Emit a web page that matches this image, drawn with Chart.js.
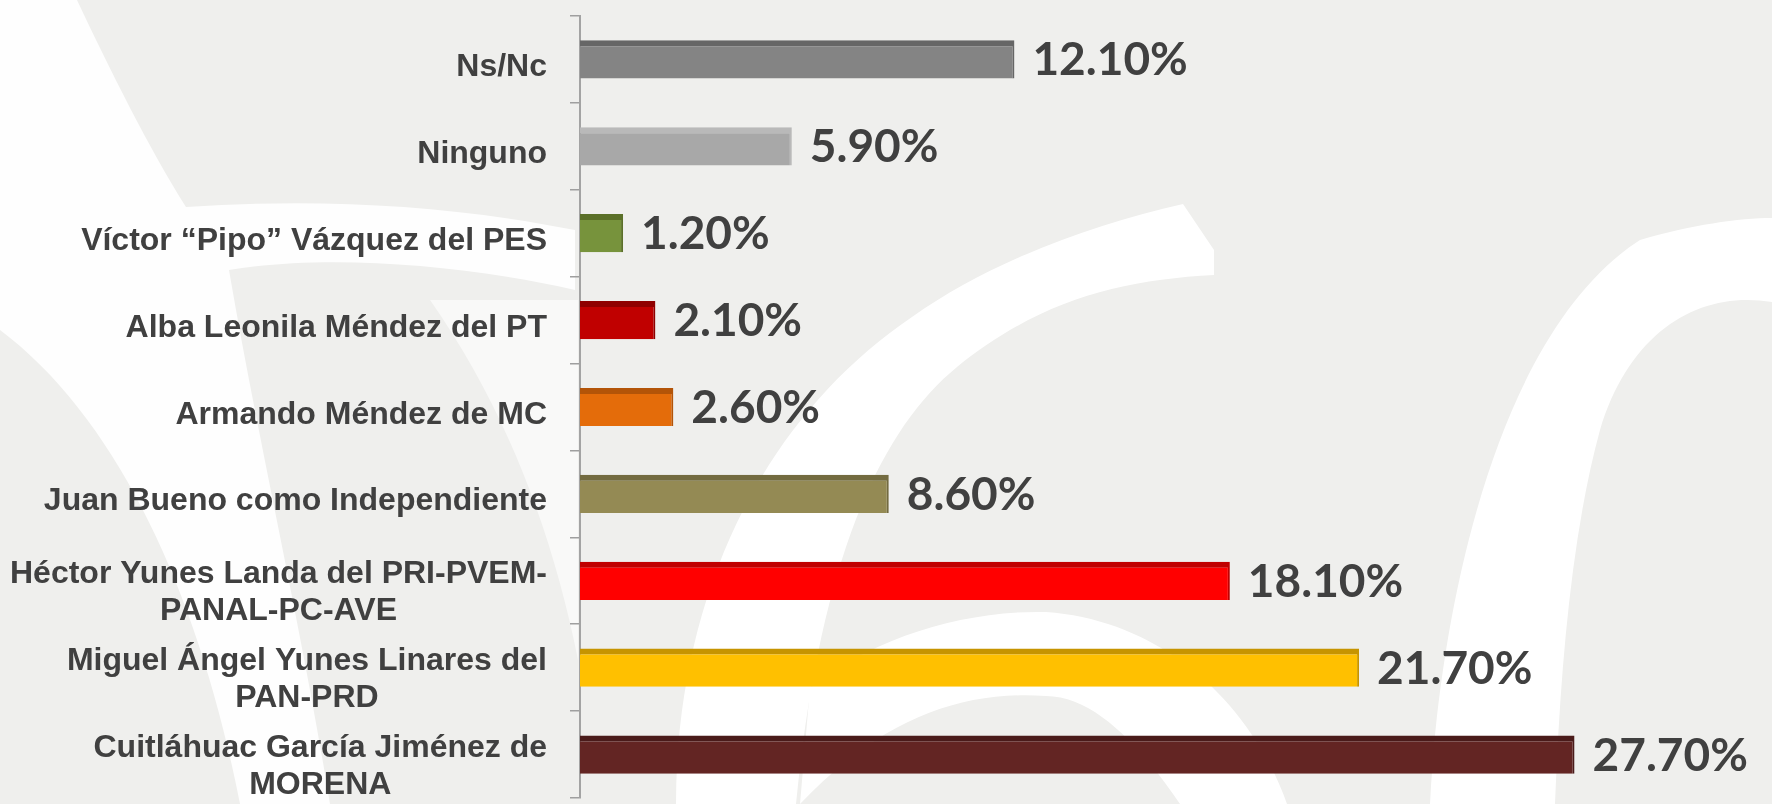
<!DOCTYPE html>
<html>
<head>
<meta charset="utf-8">
<script src="https://cdn.jsdelivr.net/npm/chart.js@4.4.1/dist/chart.umd.min.js"></script>
<style>
  html, body { margin: 0; padding: 0; background: #efefed; overflow: hidden; }
  #wrap { position: relative; width: 1772px; height: 804px; }
  #bg { position: absolute; left: 0; top: 0; }
  #chart { position: absolute; left: 0; top: 0; }
</style>
</head>
<body>
<div id="wrap">
  <svg id="bg" width="1772" height="804" viewBox="0 0 1772 804">
    <g fill="#ffffff">
      <path d="M0,0 L77,0 C110,70 150,150 186,207 C320,198 450,205 575,230 L575,290 C450,262 320,255 229,270 C260,450 300,620 330,804 L240,804 C200,600 120,420 0,330 Z" opacity="0.9"/>
      <path d="M430,300 C500,400 550,520 578,660 L578,300 Z" opacity="0.6"/>
      <path d="M676,804 C676,600 760,420 912,317 C990,262 1090,225 1183,204 L1214,250 L1214,275 C1120,280 1040,300 957,367 C880,430 820,560 796,804 Z"/>
      <path d="M810,688 C870,640 960,610 1046,612 C1160,620 1250,700 1287,804 L1180,804 C1150,760 1100,696 1046,696 C960,690 880,720 800,804 Z"/>
      <path d="M1430,804 C1440,600 1500,330 1640,240 C1690,225 1740,218 1772,218 L1772,302 C1700,290 1630,330 1600,430 C1570,540 1560,680 1555,804 Z"/>
    </g>
  </svg>
  <canvas id="chart" width="1772" height="804"></canvas>
</div>
<script>
// ---- data ----
const categories = [
  "Ns/Nc",
  "Ninguno",
  "Víctor “Pipo” Vázquez del PES",
  "Alba Leonila Méndez del PT",
  "Armando Méndez de MC",
  "Juan Bueno como Independiente",
  ["Héctor Yunes Landa del PRI-PVEM-", "PANAL-PC-AVE"],
  ["Miguel Ángel Yunes Linares del", "PAN-PRD"],
  ["Cuitláhuac García Jiménez de", "MORENA"]
];
const values = [12.1, 5.9, 1.2, 2.1, 2.6, 8.6, 18.1, 21.7, 27.7];
const valueLabels = ["12.10%", "5.90%", "1.20%", "2.10%", "2.60%", "8.60%", "18.10%", "21.70%", "27.70%"];
const barColors = ["#848484", "#a8a8a8", "#77933c", "#c00000", "#e46c0a", "#948a54", "#ff0000", "#ffc000", "#632523"];
const barTopColors = ["#666666", "#b9b9b9", "#5b7029", "#8f0000", "#b35408", "#736b40", "#c00000", "#c69400", "#4a1b1a"];

const TEXT_COLOR = "#404040";

const yLabelPlugin = {
  id: "yLabelPlugin",
  afterDraw(chart) {
    const ctx = chart.ctx;
    const s = chart.scales.y;
    const rightEdge = 547;
    const lh = 37;
    ctx.save();
    ctx.font = 'bold 32px "Liberation Sans", Arial, sans-serif';
    ctx.fillStyle = TEXT_COLOR;
    ctx.textAlign = "center";
    ctx.textBaseline = "alphabetic";
    chart.data.labels.forEach((lab, i) => {
      const lines = Array.isArray(lab) ? lab : [lab];
      const y = s.getPixelForValue(i);
      let maxW = 0;
      lines.forEach(l => { maxW = Math.max(maxW, ctx.measureText(l).width); });
      const cx = rightEdge - maxW / 2;
      const n = lines.length;
      const c = y + (n > 1 ? 9 : 5);
      lines.forEach((l, j) => {
        const base = c + (j - (n - 1) / 2) * lh + 11.5;
        ctx.fillText(l, cx, base);
      });
    });
    ctx.restore();
  }
};

const valueLabelPlugin = {
  id: "valueLabelPlugin",
  afterDatasetsDraw(chart) {
    const ctx = chart.ctx;
    const meta = chart.getDatasetMeta(0);
    ctx.save();
    ctx.font = 'bold 46px Lato, "Open Sans", sans-serif';
    ctx.fillStyle = TEXT_COLOR;
    ctx.textAlign = "left";
    ctx.textBaseline = "alphabetic";
    meta.data.forEach((el, i) => {
      ctx.fillText(valueLabels[i], el.x + 18, el.y + 16);
    });
    ctx.restore();
  }
};

new Chart(document.getElementById("chart"), {
  type: "bar",
  data: {
    labels: categories,
    datasets: [{
      data: values,
      backgroundColor: barColors,
      borderColor: barTopColors,
      borderWidth: { top: 6, right: 2, bottom: 0, left: 0 },
      borderSkipped: false,
      barPercentage: 0.44,
      categoryPercentage: 1.0
    }]
  },
  options: {
    indexAxis: "y",
    responsive: false,
    animation: false,
    devicePixelRatio: 1,
    layout: { padding: { top: 16, bottom: 6, left: 0, right: 0 } },
    plugins: {
      legend: { display: false },
      tooltip: { enabled: false },
      title: { display: false }
    },
    scales: {
      x: {
        display: false,
        min: 0,
        max: 33.2
      },
      y: {
        type: "category",
        ticks: { display: false },
        afterFit(scale) { scale.width = 580; },
        grid: {
          display: true,
          drawOnChartArea: false,
          drawTicks: true,
          tickLength: 10,
          color: "#9f9f9f",
          lineWidth: 1.5,
          offset: true
        },
        border: { display: true, color: "#a3a3a3", width: 2 }
      }
    }
  },
  plugins: [yLabelPlugin, valueLabelPlugin]
});
</script>
</body>
</html>
